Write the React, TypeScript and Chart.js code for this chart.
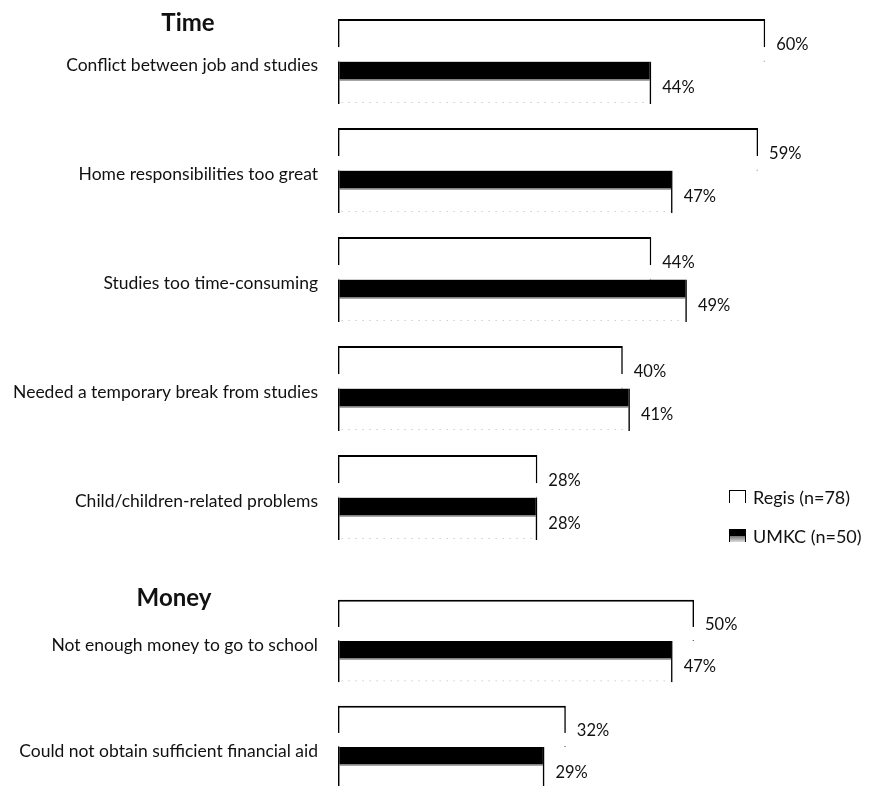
import React, { useEffect, useRef } from "react";
import { Chart, registerables } from "chart.js";

Chart.register(...registerables);

// ---- data ----
const timeCategories = [
  "Conflict between job and studies",
  "Home responsibilities too great",
  "Studies too time-consuming",
  "Needed a temporary break from studies",
  "Child/children-related problems",
];
const timeRegis = [60, 59, 44, 40, 28];
const timeUmkc = [44, 47, 49, 41, 28];

const moneyCategories = [
  "Not enough money to go to school",
  "Could not obtain sufficient financial aid",
];
const moneyRegis = [50, 32];
const moneyUmkc = [47, 29];

const seriesNames = ["Regis (n=78)", "UMKC (n=50)"];
const groupTitles = ["Time", "Money"];
const X_MAX = 75;

const FONT = "Lato, 'Open Sans', sans-serif";

const barStylePlugin = {
  id: "barStyle",
  afterDatasetsDraw(chart: any) {
    const ctx = chart.ctx;
    ctx.save();
    chart.data.datasets.forEach((ds: any, di: number) => {
      const meta = chart.getDatasetMeta(di);
      meta.data.forEach((el: any, i: number) => {
        const { x, y, base, height } = el.getProps(["x", "y", "base", "height"], true);
        const top = y - height / 2;
        const bottom = y + height / 2;
        const left = Math.min(base, x);
        const right = Math.max(base, x);
        if (di === 0) {
          // open bracket: sides only reach two thirds down
          ctx.fillStyle = "#fff";
          ctx.fillRect(left - 3, top + height * 0.66, right - left + 6, height * 0.34 - 0.6);
        } else {
          const bw = 1.6;
          const mid = top + height * 0.42;
          ctx.fillStyle = "#fff";
          ctx.fillRect(left + bw, mid, right - left - 2 * bw, bottom - mid + 1);
          ctx.fillStyle = "rgba(70,70,70,0.55)";
          ctx.fillRect(left + bw, mid, right - left - 2 * bw, 1.5);
          ctx.strokeStyle = "#b5b5b5";
          ctx.lineWidth = 1;
          ctx.setLineDash([1, 6]);
          ctx.beginPath();
          ctx.moveTo(left + bw + 2, bottom - 1.5);
          ctx.lineTo(right - bw, bottom - 1.5);
          ctx.stroke();
          ctx.setLineDash([]);
        }
        ctx.fillStyle = "#111";
        ctx.font = `16.5px ${FONT}`;
        ctx.textBaseline = "middle";
        ctx.textAlign = "left";
        ctx.fillText(`${ds.data[i]}%`, right + 11, y + (di === 0 ? 4 : 5));
      });
    });
    ctx.restore();
  },
};

function BarPanel({ categories, regis, umkc, top, height }: any) {
  const ref = useRef<HTMLCanvasElement>(null);
  useEffect(() => {
    const chart = new Chart(ref.current as HTMLCanvasElement, {
      type: "bar",
      data: {
        labels: categories,
        datasets: [
          {
            label: seriesNames[0],
            data: regis,
            backgroundColor: "#fff",
            borderColor: "#000",
            borderWidth: { top: 2, left: 1.6, right: 1.6, bottom: 0 },
            borderSkipped: false,
            categoryPercentage: 0.78,
            barPercentage: 1,
          },
          {
            label: seriesNames[1],
            data: umkc,
            backgroundColor: "#000",
            borderColor: "#000",
            borderWidth: { top: 0, left: 1.6, right: 1.6, bottom: 0 },
            borderSkipped: false,
            categoryPercentage: 0.78,
            barPercentage: 1,
          },
        ],
      },
      options: {
        indexAxis: "y",
        animation: false,
        responsive: true,
        maintainAspectRatio: false,
        layout: { padding: 0 },
        plugins: { legend: { display: false }, tooltip: { enabled: false } },
        scales: {
          x: { display: false, min: 0, max: X_MAX },
          y: {
            grid: { display: false, drawTicks: false },
            border: { display: false },
            ticks: {
              padding: 20,
              color: "#111",
              font: { family: FONT, size: 17.5 },
              labelOffset: 4,
            },
            afterFit: (s: any) => {
              s.width = 338;
              s.paddingTop = 0;
              s.paddingBottom = 0;
            },
          },
        },
      } as any,
      plugins: [barStylePlugin],
    });
    return () => chart.destroy();
  }, []);
  return (
    <div style={{ position: "absolute", left: 0, top, width: 872, height }}>
      <canvas ref={ref} />
    </div>
  );
}

export default function App() {
  useEffect(() => {
    document.body.style.margin = "0";
  }, []);
  const headerStyle: React.CSSProperties = {
    position: "absolute",
    fontFamily: FONT,
    fontWeight: "bold",
    fontSize: 24,
    color: "#111",
    transform: "translate(-50%, -50%)",
    whiteSpace: "nowrap",
  };
  const legendText: React.CSSProperties = {
    position: "absolute",
    left: 753,
    fontFamily: FONT,
    fontSize: 18,
    color: "#111",
    transform: "translateY(-50%)",
    whiteSpace: "nowrap",
  };
  return (
    <div style={{ position: "relative", width: 872, height: 786, overflow: "hidden", background: "#fff" }}>
      <BarPanel categories={timeCategories} regis={timeRegis} umkc={timeUmkc} top={7} height={545} />
      <BarPanel categories={moneyCategories} regis={moneyRegis} umkc={moneyUmkc} top={588} height={212} />
      <div style={{ ...headerStyle, left: 188, top: 21 }}>{groupTitles[0]}</div>
      <div style={{ ...headerStyle, left: 174, top: 596 }}>{groupTitles[1]}</div>
      <div
        style={{
          position: "absolute",
          left: 729,
          top: 490,
          width: 15,
          height: 12,
          borderTop: "1.5px solid #000",
          borderLeft: "1.5px solid #000",
          borderRight: "1.5px solid #000",
          background: "#fff",
        }}
      />
      <div style={{ ...legendText, top: 497 }}>{seriesNames[0]}</div>
      <div
        style={{
          position: "absolute",
          left: 729,
          top: 529,
          width: 15,
          height: 13,
          borderLeft: "1.5px solid #000",
          borderRight: "1.5px solid #000",
          background: "linear-gradient(#000 0%, #000 50%, #777 55%, #ddd 100%)",
        }}
      />
      <div style={{ ...legendText, top: 536 }}>{seriesNames[1]}</div>
    </div>
  );
}
